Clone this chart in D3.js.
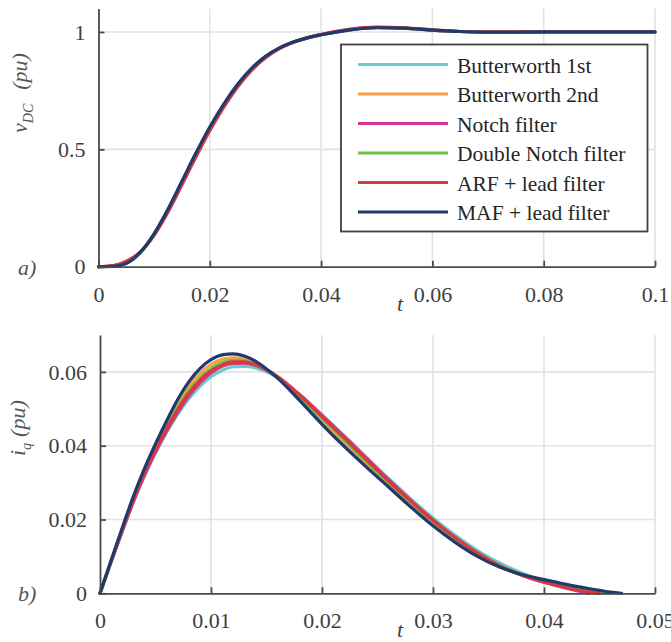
<!DOCTYPE html>
<html>
<head>
<meta charset="utf-8">
<script src="https://cdn.jsdelivr.net/npm/d3@7"></script>
<style>
  body { margin: 0; background: #fff; }
  svg { display: block; }
  svg text { font-family: 'Liberation Serif', serif !important; }
</style>
</head>
<body>
<script>
// canvas size
var w = 671;
var h = 642;
var fontFamily = "'Liberation Serif', serif";

// series names and colours (legend order = drawing order)
var seriesNames = ["Butterworth 1st", "Butterworth 2nd", "Notch filter", "Double Notch filter", "ARF + lead filter", "MAF + lead filter"];
var seriesColors = ["#66cccc", "#f7a040", "#d6338f", "#72c045", "#d93a3e", "#1f3a6e"];

// ---- panel a) DC voltage step response ----
var tA = [0, 0.0025, 0.005, 0.0075, 0.01, 0.0125, 0.015, 0.0175, 0.02, 0.0225, 0.025, 0.0275, 0.03, 0.0325, 0.035, 0.0375, 0.04, 0.045, 0.05, 0.055, 0.06, 0.065, 0.07, 0.08, 0.09, 0.1];
var vBw1    = [0, 0.003, 0.019, 0.061, 0.138, 0.241, 0.358, 0.477, 0.588, 0.687, 0.771, 0.841, 0.893, 0.930, 0.956, 0.975, 0.988, 1.009, 1.019, 1.016, 1.008, 1.002, 0.999, 1.0, 1.0, 1.0];
var vBw2    = [0, 0.003, 0.019, 0.062, 0.139, 0.243, 0.360, 0.479, 0.590, 0.689, 0.773, 0.842, 0.894, 0.931, 0.957, 0.975, 0.988, 1.009, 1.019, 1.016, 1.008, 1.002, 0.999, 1.0, 1.0, 1.0];
var vNotch  = [0, 0.004, 0.021, 0.062, 0.137, 0.238, 0.354, 0.472, 0.584, 0.684, 0.769, 0.839, 0.892, 0.930, 0.956, 0.975, 0.989, 1.010, 1.020, 1.017, 1.008, 1.002, 0.999, 1.0, 1.0, 1.0];
var vDNotch = [0, 0.003, 0.020, 0.062, 0.138, 0.240, 0.357, 0.475, 0.587, 0.686, 0.770, 0.840, 0.893, 0.930, 0.956, 0.975, 0.988, 1.009, 1.019, 1.016, 1.008, 1.002, 0.999, 1.0, 1.0, 1.0];
var vArf    = [0, 0.004, 0.023, 0.063, 0.134, 0.233, 0.349, 0.467, 0.579, 0.679, 0.765, 0.836, 0.890, 0.929, 0.956, 0.975, 0.989, 1.011, 1.021, 1.018, 1.009, 1.002, 0.999, 1.0, 1.0, 1.0];
var vMaf    = [0, 0.001, 0.014, 0.060, 0.141, 0.246, 0.365, 0.484, 0.595, 0.693, 0.777, 0.845, 0.896, 0.932, 0.957, 0.975, 0.988, 1.008, 1.018, 1.016, 1.008, 1.002, 0.999, 1.0, 1.0, 1.0];
var seriesA = [vBw1, vBw2, vNotch, vDNotch, vArf, vMaf];
var xTicksA = [0, 0.02, 0.04, 0.06, 0.08, 0.1];
var yTicksA = [0, 0.5, 1];

// ---- panel b) q-axis current ----
var tB = [0, 0.001, 0.002, 0.003, 0.004, 0.005, 0.006, 0.007, 0.008, 0.009, 0.010, 0.011, 0.012, 0.013, 0.014, 0.015, 0.016, 0.018, 0.020, 0.022, 0.024, 0.026, 0.028, 0.030, 0.032, 0.034, 0.036, 0.038, 0.040, 0.042, 0.044, 0.045, 0.046, 0.047];
var iBw1    = [0, 0.0085, 0.0167, 0.0246, 0.0317, 0.0380, 0.0436, 0.0485, 0.0527, 0.0561, 0.0587, 0.0604, 0.0614, 0.0615, 0.0611, 0.0600, 0.0584, 0.0538, 0.0484, 0.0427, 0.0369, 0.0311, 0.0256, 0.0204, 0.0157, 0.0116, 0.0082, 0.0055, 0.0034, 0.0018, 0.0007, 0.0003, 0, null];
var iBw2    = [0, 0.0088, 0.0175, 0.0259, 0.0335, 0.0401, 0.0461, 0.0515, 0.0561, 0.0596, 0.0620, 0.0634, 0.0638, 0.0635, 0.0624, 0.0606, 0.0584, 0.0527, 0.0465, 0.0405, 0.0348, 0.0293, 0.0240, 0.0190, 0.0145, 0.0106, 0.0074, 0.0050, 0.0033, 0.0019, 0.0009, 0.0005, 0, null];
var iNotch  = [0, 0.0085, 0.0168, 0.0248, 0.0320, 0.0383, 0.0440, 0.0490, 0.0535, 0.0570, 0.0597, 0.0615, 0.0623, 0.0624, 0.0618, 0.0605, 0.0587, 0.0538, 0.0482, 0.0425, 0.0366, 0.0308, 0.0252, 0.0199, 0.0152, 0.0110, 0.0075, 0.0049, 0.0030, 0.0014, 0, null, null, null];
var iDNotch = [0, 0.0087, 0.0172, 0.0254, 0.0328, 0.0393, 0.0452, 0.0505, 0.0549, 0.0584, 0.0609, 0.0625, 0.0631, 0.0630, 0.0621, 0.0606, 0.0586, 0.0533, 0.0474, 0.0415, 0.0357, 0.0300, 0.0246, 0.0195, 0.0149, 0.0109, 0.0076, 0.0051, 0.0032, 0.0017, 0.0006, 0.0002, 0, null];
var iArf    = [0, 0.0086, 0.0170, 0.0251, 0.0324, 0.0388, 0.0446, 0.0498, 0.0542, 0.0577, 0.0603, 0.0619, 0.0627, 0.0627, 0.0620, 0.0606, 0.0587, 0.0536, 0.0479, 0.0421, 0.0362, 0.0304, 0.0249, 0.0197, 0.0150, 0.0109, 0.0075, 0.0049, 0.0030, 0.0015, 0.0004, 0, null, null];
var iMaf    = [0, 0.0089, 0.0177, 0.0262, 0.0338, 0.0405, 0.0467, 0.0525, 0.0573, 0.0609, 0.0633, 0.0646, 0.0649, 0.0643, 0.0629, 0.0608, 0.0583, 0.0522, 0.0458, 0.0398, 0.0342, 0.0288, 0.0234, 0.0183, 0.0138, 0.0100, 0.0071, 0.0051, 0.0037, 0.0024, 0.0013, 0.0008, 0.0003, 0];
var seriesB = [iBw1, iBw2, iNotch, iDNotch, iArf, iMaf];
var xTicksB = [0, 0.01, 0.02, 0.03, 0.04, 0.05];
var yTicksB = [0, 0.02, 0.04, 0.06];

// colours / styles
var axisColor = "#4a4a4a";
var gridColor = "#e2e2e2";
var tickTextColor = "#404040";
var labelColor = "#555";

var svg = d3.select("body")
            .append("svg")
            .attr("width", w)
            .attr("height", h);

// draws one panel: grid, curves, axes and labels
function drawPanel(cfg) {
    var x = d3.scaleLinear().domain(cfg.xDomain).range([cfg.left, cfg.right]);
    var y = d3.scaleLinear().domain(cfg.yDomain).range([cfg.bottom, cfg.top]);
    var g = svg.append("g");

    // grid lines
    g.append("g").selectAll("line")
      .data(cfg.xTicks.slice(1))
      .enter().append("line")
        .attr("x1", function(d) { return x(d); })
        .attr("x2", function(d) { return x(d); })
        .attr("y1", y.range()[0])
        .attr("y2", y.range()[1])
        .attr("stroke", gridColor)
        .attr("stroke-width", 1.6);
    g.append("g").selectAll("line")
      .data(cfg.yTicks.slice(1))
      .enter().append("line")
        .attr("y1", function(d) { return y(d); })
        .attr("y2", function(d) { return y(d); })
        .attr("x1", x.range()[0])
        .attr("x2", x.range()[1])
        .attr("stroke", gridColor)
        .attr("stroke-width", 1.6);

    // curves
    var line = d3.line()
        .defined(function(d) { return d[1] != null; })
        .x(function(d) { return x(d[0]); })
        .y(function(d) { return y(d[1]); })
        .curve(d3.curveMonotoneX);

    cfg.series.forEach(function(vals, i) {
        var pts = cfg.t.map(function(t, j) { return [t, vals[j]]; });
        g.append("path")
          .attr("d", line(pts))
          .attr("fill", "none")
          .attr("stroke", seriesColors[i])
          .attr("stroke-width", 3.2)
          .attr("stroke-linejoin", "round")
          .attr("stroke-linecap", "round");
    });

    // axes, ticks pointing inward
    var xAxis = g.append("g")
        .attr("transform", "translate(0," + cfg.bottom + ")")
        .call(d3.axisBottom(x).tickValues(cfg.xTicks).tickSizeInner(-6).tickSizeOuter(0).tickPadding(0).tickFormat(function(d) { return d; }));
    var yAxis = g.append("g")
        .attr("transform", "translate(" + cfg.left + ",0)")
        .call(d3.axisLeft(y).tickValues(cfg.yTicks).tickSizeInner(-6).tickSizeOuter(0).tickFormat(function(d) { return d; }));

    [xAxis, yAxis].forEach(function(ax) {
        ax.attr("font-family", null).attr("font-size", null);
        ax.select(".domain").attr("stroke", axisColor).attr("stroke-width", 1.8);
        ax.selectAll(".tick line").attr("stroke", axisColor).attr("stroke-width", 1.8);
        ax.selectAll(".tick text")
          .style("font-family", fontFamily)
          .attr("fill", tickTextColor)
          .attr("font-size", 22);
    });
    xAxis.selectAll(".tick text").attr("y", 35).attr("dy", 0);
    yAxis.selectAll(".tick text").attr("x", -13).attr("dy", "0.33em");

    // x label
    svg.append("text")
      .style("font-family", fontFamily)
      .attr("x", 397)
      .attr("y", cfg.bottom + 44)
      .attr("fill", tickTextColor)
      .attr("font-size", 22)
      .attr("font-style", "italic")
      .text("t");

    // panel tag
    svg.append("text")
      .style("font-family", fontFamily)
      .attr("x", 18)
      .attr("y", cfg.bottom + 8)
      .attr("fill", labelColor)
      .attr("font-size", 22)
      .attr("font-style", "italic")
      .text(cfg.tag);

    // y label, rotated
    var yl = svg.append("text")
      .style("font-family", fontFamily)
      .attr("transform", "translate(" + cfg.ylabX + "," + cfg.ylabY + ") rotate(-90)")
      .attr("fill", labelColor)
      .attr("font-size", 22)
      .attr("font-style", "italic");
    yl.append("tspan").text(cfg.ylab[0]);
    yl.append("tspan").attr("font-size", 14).attr("dy", 6).text(cfg.ylab[1]);
    yl.append("tspan").attr("dy", -6).attr("dx", cfg.ylabGap).text(cfg.ylab[2]);

    return {x: x, y: y};
}

drawPanel({
    t: tA, series: seriesA,
    xDomain: [0, 0.1], yDomain: [0, 1.1],
    left: 98.5, right: 655, top: 8.5, bottom: 266.7,
    xTicks: xTicksA, yTicks: yTicksA,
    tag: "a)", ylab: ["v", "DC", "(pu)"], ylabX: 27, ylabY: 133, ylabGap: 14
});

drawPanel({
    t: tB, series: seriesB,
    xDomain: [0, 0.05], yDomain: [0, 0.07],
    left: 100, right: 655, top: 335, bottom: 593.3,
    xTicks: xTicksB, yTicks: yTicksB,
    tag: "b)", ylab: ["i", "q", "(pu)"], ylabX: 25, ylabY: 456, ylabGap: 6
});

// legend in panel a)
var legend = svg.append("g").attr("transform", "translate(341,44.5)");
legend.append("rect")
  .attr("width", 306.5)
  .attr("height", 187)
  .attr("fill", "#fff")
  .attr("stroke", "#404040")
  .attr("stroke-width", 1.8);

var items = legend.selectAll("g.item")
  .data(seriesNames)
  .enter().append("g")
    .attr("class", "item")
    .attr("transform", function(d, i) { return "translate(0," + (20 + i * 29.5) + ")"; });

items.append("line")
  .attr("x1", 17)
  .attr("x2", 107)
  .attr("stroke", function(d, i) { return seriesColors[i]; })
  .attr("stroke-width", 3);

items.append("text")
  .style("font-family", fontFamily)
  .attr("x", 116)
  .attr("y", 8)
  .attr("fill", "#262626")
  .attr("font-size", 21.5)
  .text(function(d) { return d; });
</script>
</body>
</html>
